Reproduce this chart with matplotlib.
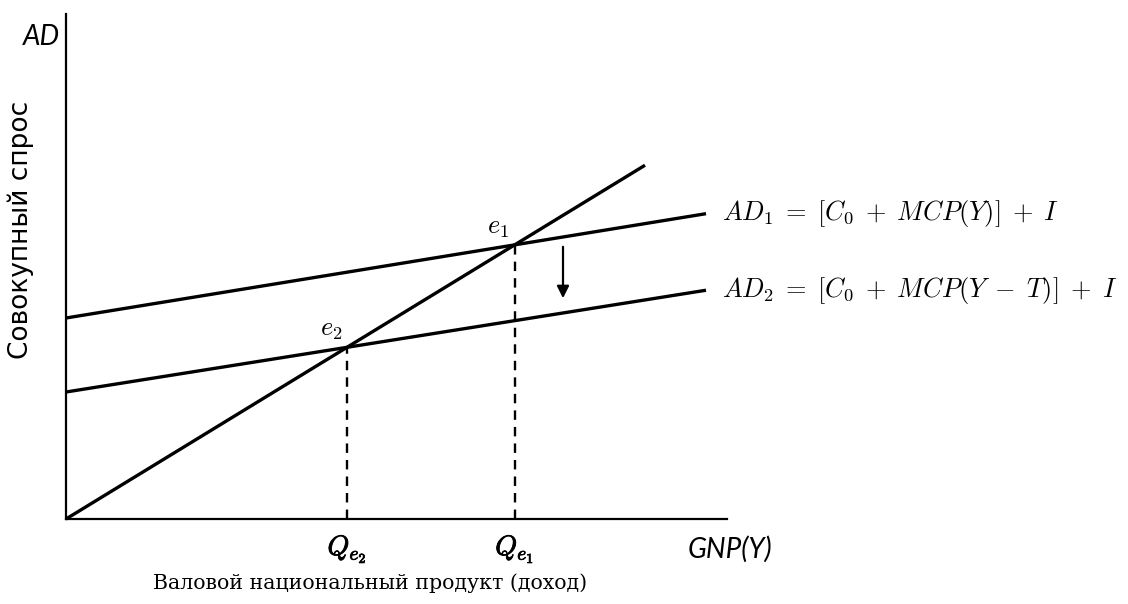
import numpy as np
import matplotlib.pyplot as plt
import matplotlib.patheffects as pe

# Chart values (units)
x_end = [0, 579]            # 45-degree line Y = AD
diag_slope = 0.611
ad1_icpt, ad1_slope = 201, 0.163
ad2_icpt, ad2_slope = 127, 0.159
ad_x = [0, 640]
labels_ad = [r"$AD_1\;=\;[C_0\;+\;MCP(Y)]\;+\;I$",
             r"$AD_2\;=\;[C_0\;+\;MCP(Y\;-\;T)]\;+\;I$"]
q_labels = [r"$Q_{e_2}$", r"$Q_{e_1}$"]

plt.rcParams['mathtext.fontset'] = 'cm'

fig = plt.figure(figsize=(11.28, 6.04), dpi=100)
ax = fig.add_axes([66/1128, 85/604, 661/1128, 505/604])
ax.set_xlim(0, 661)
ax.set_ylim(0, 505)
for s in ['top', 'right']:
    ax.spines[s].set_visible(False)
for s in ['left', 'bottom']:
    ax.spines[s].set_linewidth(1.6)
ax.set_xticks([])
ax.set_yticks([])

xd = np.array(x_end)
ax.plot(xd, diag_slope*xd, color='black', lw=2.4, clip_on=False, solid_capstyle='butt')
xa = np.array(ad_x)
ax.plot(xa, ad1_icpt + ad1_slope*xa, color='black', lw=2.4, clip_on=False, solid_capstyle='butt')
ax.plot(xa, ad2_icpt + ad2_slope*xa, color='black', lw=2.4, clip_on=False, solid_capstyle='butt')

# equilibrium points
e1x = ad1_icpt/(diag_slope - ad1_slope)
e2x = ad2_icpt/(diag_slope - ad2_slope)
e1y = diag_slope*e1x
e2y = diag_slope*e2x
ax.plot([e1x, e1x], [0, e1y], color='black', lw=1.7, ls=(0, (4, 3)))
ax.plot([e2x, e2x], [0, e2y], color='black', lw=1.7, ls=(0, (4, 3)))

ax.text(e1x-6, e1y+5, r"$e_1$", fontsize=19, ha='right', va='bottom')
ax.text(e2x-4, e2y+5, r"$e_2$", fontsize=19, ha='right', va='bottom')

# shift arrow
ax.annotate('', xy=(497, 218), xytext=(497, 275),
            arrowprops=dict(arrowstyle='-|>', color='black', lw=1.6, mutation_scale=18))

ax.text(656, ad1_icpt + ad1_slope*640, labels_ad[0], fontsize=19, va='center', clip_on=False)
ax.text(656, ad2_icpt + ad2_slope*640, labels_ad[1], fontsize=19, va='center', clip_on=False)

bold = [pe.withStroke(linewidth=0.6, foreground='black')]
ax.text(e2x, -30, q_labels[0], fontsize=20, ha='center', va='center', path_effects=bold)
ax.text(e1x, -30, q_labels[1], fontsize=20, ha='center', va='center', path_effects=bold)

ax.text(622, -30, 'GNP(Y)', fontsize=20, style='italic', family='Lato', ha='left', va='center')
ax.text(-6, 482, 'AD', fontsize=20, style='italic', family='Lato', ha='right', va='center')

ax.text(-45, 289, 'Совокупный спрос', fontsize=19, rotation=90, ha='center', va='center',
        family='DejaVu Sans')
ax.text(304, -64, 'Валовой национальный продукт (доход)', fontsize=14.8, ha='center', va='center',
        family='DejaVu Serif')

fig.savefig('out.png', dpi=100)
